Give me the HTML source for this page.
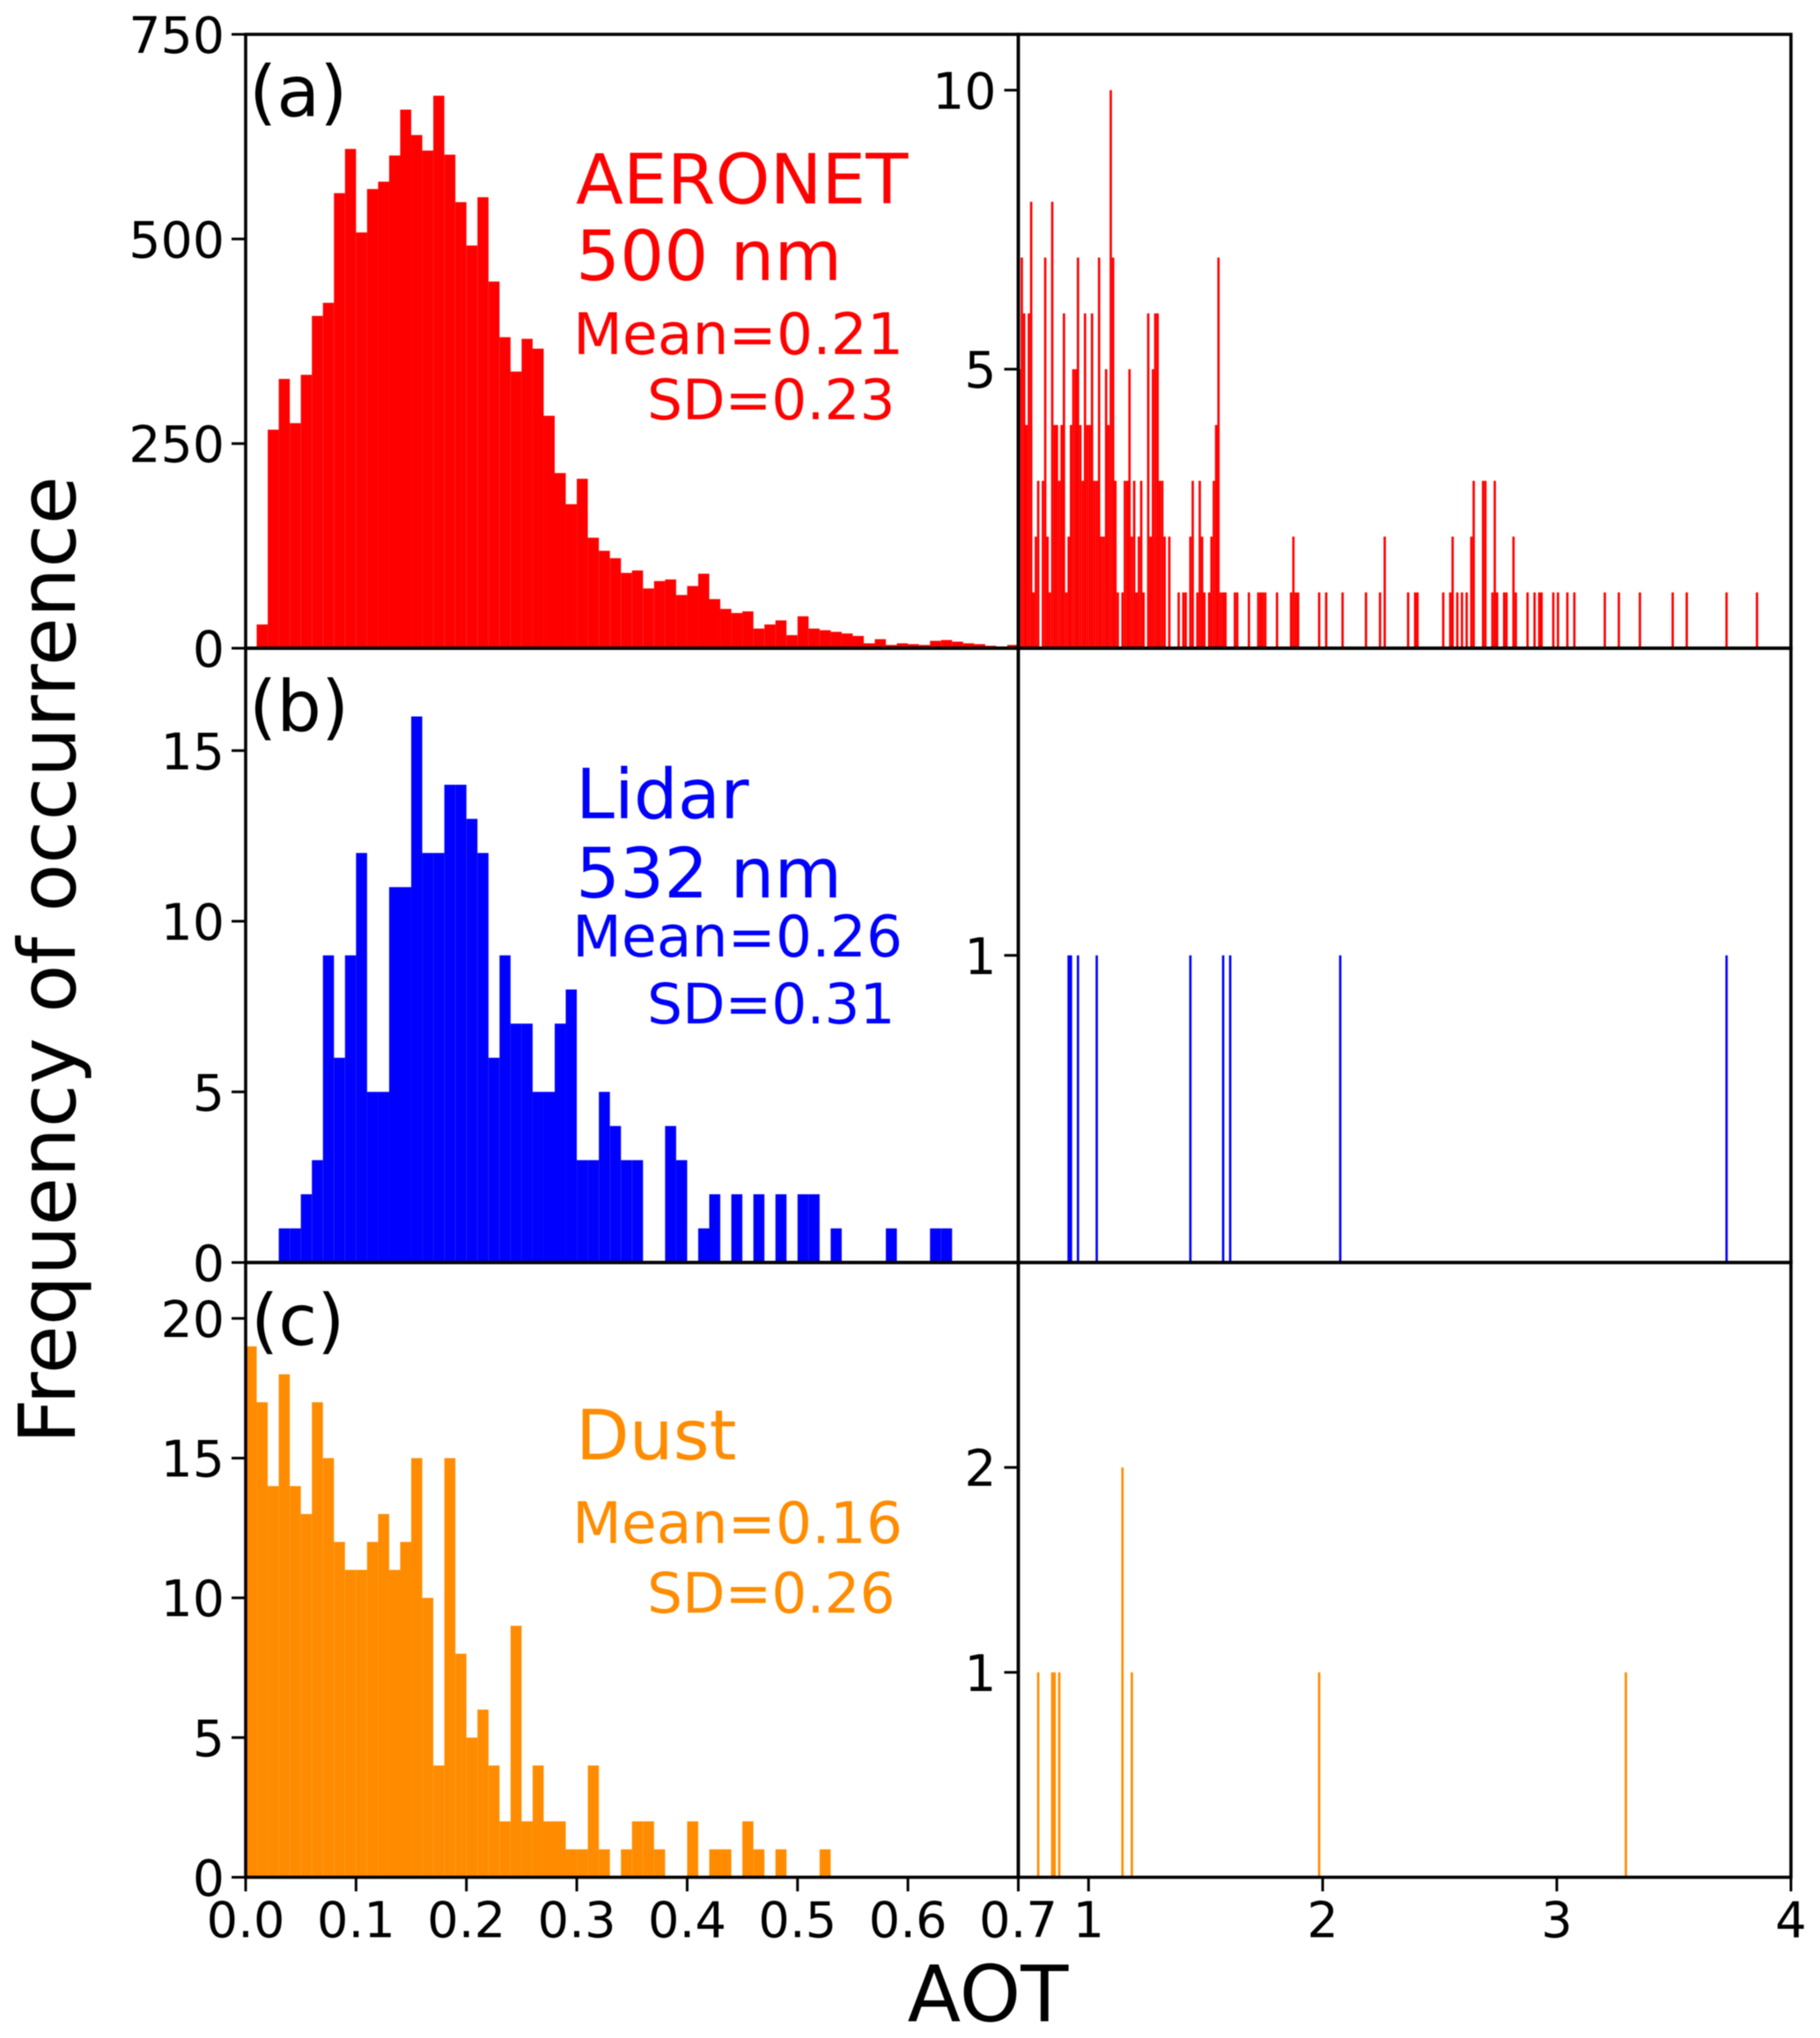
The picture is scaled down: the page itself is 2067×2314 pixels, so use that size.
<!DOCTYPE html>
<html lang="en">
<head>
<meta charset="utf-8">
<title>AOT frequency histograms</title>
<style>
html,body{margin:0;padding:0;background:#fff;}
svg{display:block;filter:blur(0.5px);}
text{font-family:"DejaVu Sans",sans-serif;}
</style>
</head>
<body>
<svg id="chart" xmlns="http://www.w3.org/2000/svg" width="2067" height="2314" viewBox="0 0 2067 2314">
  <rect x="0" y="0" width="2067" height="2314" fill="#fff"/>
  <g id="marks"></g>
  <g id="axes"></g>

  <text x="283" y="132" font-size="80" fill="#000">(a)</text>
  <text x="283" y="830" font-size="80" fill="#000">(b)</text>
  <text x="285" y="1527" font-size="80" fill="#000">(c)</text>

  <text x="654" y="231" font-size="78.8" fill="#ff0000">AERONET</text>
  <text x="654" y="318" font-size="78.8" fill="#ff0000">500 nm</text>
  <text x="651" y="402" font-size="64.8" fill="#ff0000">Mean=0.21</text>
  <text x="735" y="476" font-size="63" fill="#ff0000">SD=0.23</text>

  <text x="654" y="929" font-size="78.8" fill="#0000ff">Lidar</text>
  <text x="654" y="1019" font-size="78.8" fill="#0000ff">532 nm</text>
  <text x="650" y="1086" font-size="64.8" fill="#0000ff">Mean=0.26</text>
  <text x="735" y="1162" font-size="63" fill="#0000ff">SD=0.31</text>

  <text x="654" y="1657" font-size="78.8" fill="#ff8c00">Dust</text>
  <text x="650" y="1752" font-size="64.8" fill="#ff8c00">Mean=0.16</text>
  <text x="735" y="1831" font-size="63" fill="#ff8c00">SD=0.26</text>

  <text x="1122" y="2295" font-size="88.5" text-anchor="middle" fill="#000">AOT</text>
  <text transform="translate(85 1090) rotate(-90)" font-size="89.3" text-anchor="middle" fill="#000">Frequency of occurrence</text>
</svg>

<script>
// ---------- Data: main histogram counts, 0.01-wide bins from AOT 0.00 to 0.70 ----------
const binWidth = 0.01;

const aeronetCounts = [0,29,267,329,275,334,406,422,556,610,508,561,570,602,658,627,608,675,603,545,
  492,551,448,380,338,378,366,284,214,176,207,135,119,110,92,95,73,82,84,65,
  76,91,60,48,43,45,24,29,34,16,39,24,22,20,18,15,6,11,4,6,
  5,4,9,10,8,6,5,3,2,4];

const lidarCounts = [0,0,0,1,1,2,3,9,6,9,12,5,5,11,11,16,12,12,14,14,
  13,12,6,9,7,7,5,5,7,8,3,3,5,4,3,3,0,0,4,3,
  0,1,2,0,2,0,2,0,2,0,2,2,0,1,0,0,0,0,1,0,
  0,0,1,1,0,0,0,0,0,0];

const dustCounts = [19,17,14,18,14,13,17,15,12,11,11,12,13,11,12,15,10,4,15,8,
  5,6,4,2,9,2,4,2,2,1,1,4,1,0,1,2,2,1,0,0,
  2,0,1,1,0,2,1,0,1,0,0,0,1,0,0,0,0,0,0,0,
  0,0,0,0,0,0,0,0,0,0];

// ---------- Data: tail histograms, left edge of each occupied bin and its count ----------
const aeronetTailAot = [0.70,0.71,0.72,0.73,0.74,0.75,0.76,0.77,0.78,0.80,0.81,0.82,0.83,0.84,0.85,0.86,0.87,0.88,0.89,
  0.90,0.91,0.92,0.93,0.94,0.95,0.96,0.97,0.98,0.99,1.00,1.01,1.02,1.03,1.04,1.05,1.06,1.07,1.08,1.09,1.10,1.11,1.12,
  1.14,1.15,1.16,1.17,1.18,1.19,1.20,1.21,1.22,1.23,1.25,1.26,1.27,1.28,1.29,1.30,1.31,1.32,1.34,
  1.38,1.40,1.41,1.43,1.44,1.46,1.47,1.48,1.49,1.51,1.52,1.53,1.54,1.55,1.56,1.57,1.58,
  1.62,1.63,1.68,1.72,1.73,1.74,1.75,1.80,1.86,1.87,1.88,1.89,1.98,2.01,2.08,
  2.18,2.24,2.26,2.36,2.39,2.40,2.51,2.54,2.55,2.57,2.59,2.61,2.63,2.64,2.68,2.69,2.72,2.73,2.74,
  2.77,2.78,2.81,2.82,2.87,2.90,2.92,2.93,2.98,3.00,3.04,3.07,3.20,3.26,3.35,3.49,3.55,3.72,3.85];

const aeronetTailCounts = [5,7,6,4,6,8,1,2,3,3,7,2,1,8,4,4,3,4,6,
  1,2,4,5,5,7,4,3,6,4,4,6,3,3,7,2,2,5,4,10,7,3,1,
  1,3,3,5,2,3,1,2,3,1,6,2,5,6,6,3,3,2,2,
  1,1,1,2,3,1,3,2,1,1,2,3,4,7,1,1,1,
  1,1,1,1,1,1,1,1,1,2,1,1,1,1,1,
  1,1,2,1,1,1,1,1,2,1,1,1,2,3,3,3,1,3,1,
  1,1,2,1,1,1,1,1,1,1,1,1,1,1,1,1,1,1,1];

const lidarTailAot = [0.91,0.92,0.95,1.03,1.43,1.57,1.60,2.07,3.72];
const lidarTailCounts = [1,1,1,1,1,1,1,1,1];

const dustTailAot = [0.78,0.84,0.85,0.87,1.14,1.18,1.98,3.29];
const dustTailCounts = [1,1,1,1,2,1,1,1];

// ---------- Data: tick labels ----------
const aeronetTicks = [0,250,500,750];
const lidarTicks = [0,5,10,15];
const dustTicks = [0,5,10,15,20];
const aeronetTailTicks = [5,10];
const lidarTailTicks = [1];
const dustTailTicks = [1,2];
const mainXTicks = ['0.0','0.1','0.2','0.3','0.4','0.5','0.6','0.7'];
const tailXTicks = ['1','2','3','4'];

// ---------- Axis limits ----------
const mainXMax = 0.7;
const tailXMin = 0.7;
const tailXMax = 4;

// ---------- Layout ----------
const NS = 'http://www.w3.org/2000/svg';
const frameLeft = 279, frameMid = 1156.5, frameRight = 2034;
const tickLen = 16, spineW = 3.6, tickW = 3, tickFont = 57, xTickFont = 56;
const marks = document.getElementById('marks');
const axes = document.getElementById('axes');

function xMain(v){ return frameLeft + (v / mainXMax) * (frameMid - frameLeft); }
function xTail(v){ return frameMid + ((v - tailXMin) / (tailXMax - tailXMin)) * (frameRight - frameMid); }
function yScale(v, top, bottom, max){ return bottom - (v / max) * (bottom - top); }

function shape(tag, attrs, parent){
  const el = document.createElementNS(NS, tag);
  for (const k in attrs) el.setAttribute(k, attrs[k]);
  parent.appendChild(el);
  return el;
}

function drawPanel(cfg){
  const yL = v => yScale(v, cfg.top, cfg.bottom, cfg.leftMax);
  const yR = v => yScale(v, cfg.top, cfg.bottom, cfg.rightMax);

  // main histogram bars
  cfg.counts.forEach((c, i) => {
    if (!c) return;
    const x0 = xMain(i * binWidth), x1 = xMain((i + 1) * binWidth);
    const bar = shape('rect', {x:x0, y:yL(c), width:x1 - x0, height:cfg.bottom - yL(c), fill:cfg.color}, marks);
    
    
  });

  // tail histogram bars
  cfg.tailAot.forEach((a, i) => {
    const c = cfg.tailCounts[i];
    const x0 = xTail(a), x1 = xTail(a + binWidth);
    const bar = shape('rect', {x:x0, y:yR(c), width:x1 - x0, height:cfg.bottom - yR(c), fill:cfg.color}, marks);
    
    
  });

  // frames
  const frameA = shape('rect', {x:frameLeft, y:cfg.top, width:frameMid - frameLeft, height:cfg.bottom - cfg.top, fill:'none', stroke:'#000', 'stroke-width':spineW}, axes);
  
  
  const frameB = shape('rect', {x:frameMid, y:cfg.top, width:frameRight - frameMid, height:cfg.bottom - cfg.top, fill:'none', stroke:'#000', 'stroke-width':spineW}, axes);
  
  

  // left y ticks
  cfg.leftTicks.forEach(t => {
    const y = yL(t);
    const tick = shape('line', {x1:frameLeft - tickLen, x2:frameLeft, y1:y, y2:y, stroke:'#000', 'stroke-width':tickW}, axes);
    
    
    const label = shape('text', {x:frameLeft - 24, y:y + 21, 'font-size':tickFont, 'text-anchor':'end', fill:'#000'}, axes);
    
    
    label.textContent = String(t);
  });

  // right y ticks
  cfg.rightTicks.forEach(t => {
    const y = yR(t);
    const tick = shape('line', {x1:frameMid - tickLen, x2:frameMid, y1:y, y2:y, stroke:'#000', 'stroke-width':tickW}, axes);
    
    
    const label = shape('text', {x:frameMid - 25, y:y + 21, 'font-size':tickFont, 'text-anchor':'end', fill:'#000'}, axes);
    
    
    label.textContent = String(t);
  });
}

drawPanel({name:'aeronet', color:'#ff0000', top:39, bottom:736, leftMax:750, rightMax:11,
  counts:aeronetCounts, tailAot:aeronetTailAot, tailCounts:aeronetTailCounts,
  leftTicks:aeronetTicks, rightTicks:aeronetTailTicks});
drawPanel({name:'lidar', color:'#0000ff', top:736, bottom:1433.5, leftMax:18, rightMax:2,
  counts:lidarCounts, tailAot:lidarTailAot, tailCounts:lidarTailCounts,
  leftTicks:lidarTicks, rightTicks:lidarTailTicks});
drawPanel({name:'dust', color:'#ff8c00', top:1433.5, bottom:2131.5, leftMax:22, rightMax:3,
  counts:dustCounts, tailAot:dustTailAot, tailCounts:dustTailCounts,
  leftTicks:dustTicks, rightTicks:dustTailTicks});

// x ticks along the shared bottom edge
const axisBottom = 2131.5;
mainXTicks.forEach(t => {
  const x = xMain(parseFloat(t));
  const tick = shape('line', {x1:x, x2:x, y1:axisBottom, y2:axisBottom + tickLen, stroke:'#000', 'stroke-width':tickW}, axes);
  
  
  const label = shape('text', {x:x, y:axisBottom + 68, 'font-size':xTickFont, 'text-anchor':'middle', fill:'#000'}, axes);
  
  
  label.textContent = t;
});
tailXTicks.forEach(t => {
  const x = xTail(parseFloat(t));
  const tick = shape('line', {x1:x, x2:x, y1:axisBottom, y2:axisBottom + tickLen, stroke:'#000', 'stroke-width':tickW}, axes);
  
  
  const label = shape('text', {x:x, y:axisBottom + 68, 'font-size':xTickFont, 'text-anchor':'middle', fill:'#000'}, axes);
  
  
  label.textContent = t;
});
</script>
</body>
</html>
